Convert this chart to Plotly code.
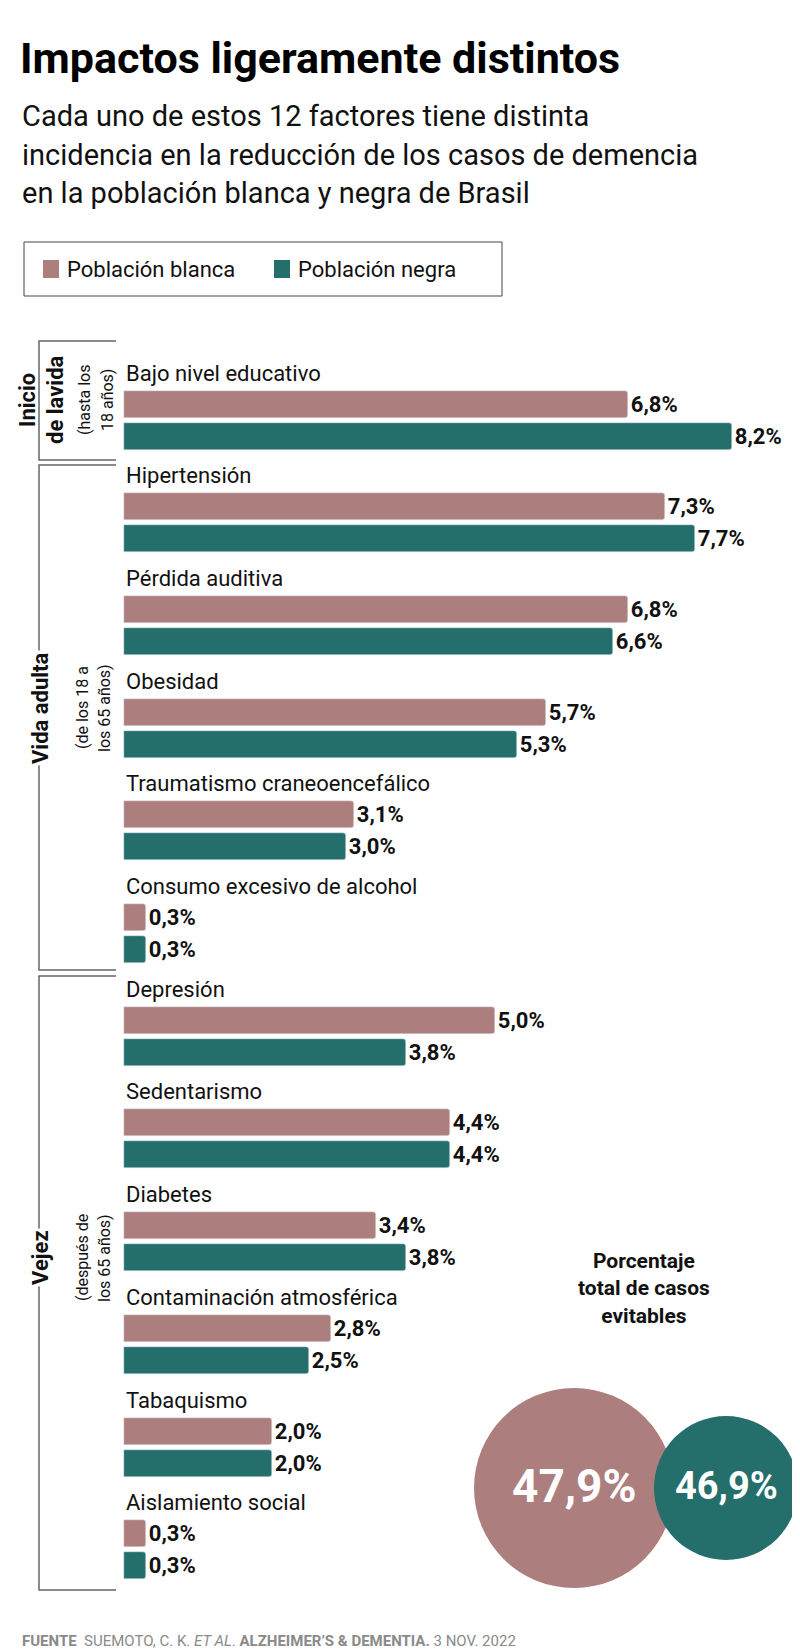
import plotly.graph_objects as go

categories = ["Bajo nivel educativo", "Hipertensión", "Pérdida auditiva", "Obesidad",
              "Traumatismo craneoencefálico", "Consumo excesivo de alcohol", "Depresión",
              "Sedentarismo", "Diabetes", "Contaminación atmosférica", "Tabaquismo",
              "Aislamiento social"]
blanca = [6.8, 7.3, 6.8, 5.7, 3.1, 0.3, 5.0, 4.4, 3.4, 2.8, 2.0, 0.3]
negra = [8.2, 7.7, 6.6, 5.3, 3.0, 0.3, 3.8, 4.4, 3.8, 2.5, 2.0, 0.3]
totals = ["47,9%", "46,9%"]
series_names = ["Población blanca", "Población negra"]
PINK = "#ad7e7e"
TEAL = "#246e6b"

W, H = 800, 1652
X0, SCALE = 116, 74.1
Y0, STEP, GAP = 396, 102.7, 32

def px(x):
    return x / W

def fmt(v):
    return f"{v:.1f}".replace(".", ",") + "%"

yb = [Y0 + i * STEP for i in range(len(categories))]
yn = [y + GAP for y in yb]

fig = go.Figure()
for vals, ys, col in [(blanca, yb, PINK), (negra, yn, TEAL)]:
    fig.add_trace(go.Bar(x=vals, y=ys, orientation="h", width=27, marker_color=col,
                         text=[fmt(v) for v in vals], textposition="outside",
                         textfont=dict(family="Roboto", size=22, color="#111", weight="bold"),
                         cliponaxis=False, showlegend=False, hoverinfo="skip"))

ann = []
shapes = []
for c, y in zip(categories, yb):
    ann.append(dict(x=px(116), y=y - 31, xref="paper", yref="y", text=c, showarrow=False,
                    xanchor="left", yanchor="middle",
                    font=dict(family="Roboto", size=22, color="#111")))

ann.append(dict(x=px(10), y=50, xref="paper", yref="y", text="<b>Impactos ligeramente distintos</b>",
                showarrow=False, xanchor="left", yanchor="middle",
                font=dict(family="Roboto", size=43, color="#000")))
for i, t in enumerate(["Cada uno de estos 12 factores tiene distinta",
                       "incidencia en la reducción de los casos de demencia",
                       "en la población blanca y negra de Brasil"]):
    ann.append(dict(x=px(12), y=108 + i * 38.5, xref="paper", yref="y", text=t, showarrow=False,
                    xanchor="left", yanchor="middle",
                    font=dict(family="Roboto", size=29, color="#111")))

shapes.append(dict(type="rect", xref="paper", yref="y", x0=px(16), x1=px(494), y0=234, y1=288,
                   line=dict(color="#444", width=1), fillcolor="white"))
for sx, col, name in [(35, PINK, series_names[0]), (266, TEAL, series_names[1])]:
    shapes.append(dict(type="rect", xref="paper", yref="y", x0=px(sx), x1=px(sx + 16),
                       y0=252, y1=270, line=dict(width=0), fillcolor=col))
    ann.append(dict(x=px(sx + 22), y=261, xref="paper", yref="y", text=name, showarrow=False,
                    xanchor="left", yanchor="middle",
                    font=dict(family="Roboto", size=22, color="#111")))

for top, bot in [(333, 452), (457, 962), (968, 1582)]:
    shapes.append(dict(type="path", xref="paper", yref="y",
                       path=f"M {px(108)},{top} L {px(31)},{top} L {px(31)},{bot} L {px(108)},{bot}",
                       line=dict(color="#666", width=1.5)))

def vtext(x, y, t, size, bold=False, bg=None):
    d = dict(x=px(x), y=y, xref="paper", yref="y", text=f"<b>{t}</b>" if bold else t,
             showarrow=False, textangle=-90, xanchor="center", yanchor="middle",
             font=dict(family="Roboto", size=size, color="#111"))
    if bg:
        d["bgcolor"] = bg
    return d

ann += [vtext(19, 392, "Inicio", 22, True), vtext(47, 392, "de lavida", 22, True),
        vtext(76, 392, "(hasta los", 16), vtext(99, 392, "18 años)", 16),
        vtext(32, 700, "Vida adulta", 22, True, "white"), vtext(74, 700, "(de los 18 a", 16),
        vtext(96, 700, "los 65 años)", 16),
        vtext(32, 1250, "Vejez", 22, True, "white"), vtext(74, 1250, "(después de", 16),
        vtext(96, 1250, "los 65 años)", 16)]

for cx, r, col, t, fs in [(566, 100, PINK, totals[0], 46), (718, 72, TEAL, totals[1], 38)]:
    shapes.append(dict(type="circle", xref="paper", yref="y", x0=px(cx - r), x1=px(cx + r),
                       y0=1480 - r, y1=1480 + r, line=dict(width=0), fillcolor=col))
    ann.append(dict(x=px(cx), y=1478, xref="paper", yref="y", text=f"<b>{t}</b>", showarrow=False,
                    xanchor="center", yanchor="middle",
                    font=dict(family="Roboto", size=fs, color="white")))
ann.append(dict(x=px(636), y=1280, xref="paper", yref="y",
                text="<b>Porcentaje<br>total de casos<br>evitables</b>", showarrow=False,
                xanchor="center", yanchor="middle", align="center",
                font=dict(family="Roboto", size=21, color="#111")))

ann.append(dict(x=px(12), y=1633, xref="paper", yref="y",
                text="<b>FUENTE</b>  SUEMOTO, C. K. <i>ET AL</i>. <b>ALZHEIMER’S & DEMENTIA.</b> 3 NOV. 2022",
                showarrow=False, xanchor="left", yanchor="middle",
                font=dict(family="Roboto", size=15, color="#8a8a8a")))

fig.update_layout(width=W, height=H, margin=dict(l=0, r=0, t=0, b=0),
                  plot_bgcolor="white", paper_bgcolor="white", barmode="overlay",
                  bargap=0, barcornerradius=3,
                  xaxis=dict(range=[-X0 / SCALE, (W - X0) / SCALE], visible=False, fixedrange=True),
                  yaxis=dict(range=[H, 0], visible=False, fixedrange=True),
                  annotations=ann, shapes=shapes)
fig.write_html("out.html")
